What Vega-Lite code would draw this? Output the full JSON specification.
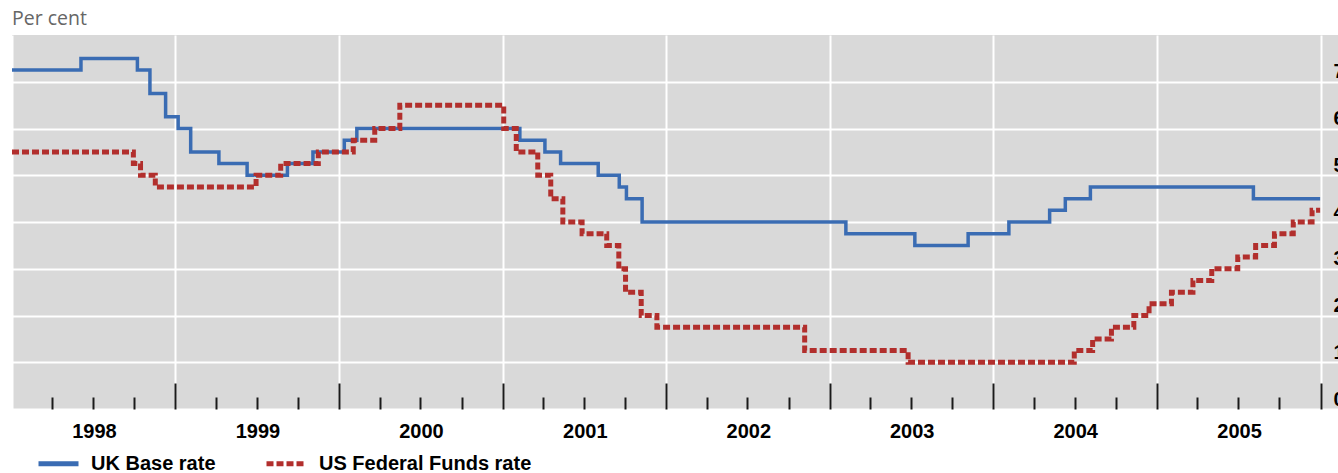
{
  "$schema": "https://vega.github.io/schema/vega-lite/v6.json",
  "autosize": {"type": "none"},
  "padding": {"left": 12, "top": 35, "right": 0, "bottom": 64},
  "width": 1335,
  "height": 374,
  "background": "white",
  "config": {
    "view": {"fill": "#d9d9d9", "stroke": null},
    "font": "Liberation Sans"
  },
  "title": {
    "text": "Per cent",
    "anchor": "start",
    "frame": "group",
    "font": "Open Sans",
    "fontSize": 19.5,
    "fontWeight": "normal",
    "color": "#666666",
    "baseline": "alphabetic",
    "offset": -9
  },
  "datasets": {
    "rates": [
      {"series": "UK Base rate", "date": "1998-01-01", "rate": 7.25},
      {"series": "UK Base rate", "date": "1998-06-04", "rate": 7.5},
      {"series": "UK Base rate", "date": "1998-10-08", "rate": 7.25},
      {"series": "UK Base rate", "date": "1998-11-05", "rate": 6.75},
      {"series": "UK Base rate", "date": "1998-12-10", "rate": 6.25},
      {"series": "UK Base rate", "date": "1999-01-07", "rate": 6.0},
      {"series": "UK Base rate", "date": "1999-02-04", "rate": 5.5},
      {"series": "UK Base rate", "date": "1999-04-08", "rate": 5.25},
      {"series": "UK Base rate", "date": "1999-06-10", "rate": 5.0},
      {"series": "UK Base rate", "date": "1999-09-08", "rate": 5.25},
      {"series": "UK Base rate", "date": "1999-11-04", "rate": 5.5},
      {"series": "UK Base rate", "date": "2000-01-13", "rate": 5.75},
      {"series": "UK Base rate", "date": "2000-02-10", "rate": 6.0},
      {"series": "UK Base rate", "date": "2001-02-08", "rate": 5.75},
      {"series": "UK Base rate", "date": "2001-04-05", "rate": 5.5},
      {"series": "UK Base rate", "date": "2001-05-10", "rate": 5.25},
      {"series": "UK Base rate", "date": "2001-08-02", "rate": 5.0},
      {"series": "UK Base rate", "date": "2001-09-18", "rate": 4.75},
      {"series": "UK Base rate", "date": "2001-10-04", "rate": 4.5},
      {"series": "UK Base rate", "date": "2001-11-08", "rate": 4.0},
      {"series": "UK Base rate", "date": "2003-02-06", "rate": 3.75},
      {"series": "UK Base rate", "date": "2003-07-10", "rate": 3.5},
      {"series": "UK Base rate", "date": "2003-11-06", "rate": 3.75},
      {"series": "UK Base rate", "date": "2004-02-05", "rate": 4.0},
      {"series": "UK Base rate", "date": "2004-05-06", "rate": 4.25},
      {"series": "UK Base rate", "date": "2004-06-10", "rate": 4.5},
      {"series": "UK Base rate", "date": "2004-08-05", "rate": 4.75},
      {"series": "UK Base rate", "date": "2005-08-04", "rate": 4.5},
      {"series": "UK Base rate", "date": "2005-12-31", "rate": 4.5},
      {"series": "US Federal Funds rate", "date": "1998-01-01", "rate": 5.5},
      {"series": "US Federal Funds rate", "date": "1998-09-29", "rate": 5.25},
      {"series": "US Federal Funds rate", "date": "1998-10-15", "rate": 5.0},
      {"series": "US Federal Funds rate", "date": "1998-11-17", "rate": 4.75},
      {"series": "US Federal Funds rate", "date": "1999-06-30", "rate": 5.0},
      {"series": "US Federal Funds rate", "date": "1999-08-24", "rate": 5.25},
      {"series": "US Federal Funds rate", "date": "1999-11-16", "rate": 5.5},
      {"series": "US Federal Funds rate", "date": "2000-02-02", "rate": 5.75},
      {"series": "US Federal Funds rate", "date": "2000-03-21", "rate": 6.0},
      {"series": "US Federal Funds rate", "date": "2000-05-16", "rate": 6.5},
      {"series": "US Federal Funds rate", "date": "2001-01-03", "rate": 6.0},
      {"series": "US Federal Funds rate", "date": "2001-01-31", "rate": 5.5},
      {"series": "US Federal Funds rate", "date": "2001-03-20", "rate": 5.0},
      {"series": "US Federal Funds rate", "date": "2001-04-18", "rate": 4.5},
      {"series": "US Federal Funds rate", "date": "2001-05-15", "rate": 4.0},
      {"series": "US Federal Funds rate", "date": "2001-06-27", "rate": 3.75},
      {"series": "US Federal Funds rate", "date": "2001-08-21", "rate": 3.5},
      {"series": "US Federal Funds rate", "date": "2001-09-17", "rate": 3.0},
      {"series": "US Federal Funds rate", "date": "2001-10-02", "rate": 2.5},
      {"series": "US Federal Funds rate", "date": "2001-11-06", "rate": 2.0},
      {"series": "US Federal Funds rate", "date": "2001-12-11", "rate": 1.75},
      {"series": "US Federal Funds rate", "date": "2002-11-06", "rate": 1.25},
      {"series": "US Federal Funds rate", "date": "2003-06-25", "rate": 1.0},
      {"series": "US Federal Funds rate", "date": "2004-06-30", "rate": 1.25},
      {"series": "US Federal Funds rate", "date": "2004-08-10", "rate": 1.5},
      {"series": "US Federal Funds rate", "date": "2004-09-21", "rate": 1.75},
      {"series": "US Federal Funds rate", "date": "2004-11-10", "rate": 2.0},
      {"series": "US Federal Funds rate", "date": "2004-12-14", "rate": 2.25},
      {"series": "US Federal Funds rate", "date": "2005-02-02", "rate": 2.5},
      {"series": "US Federal Funds rate", "date": "2005-03-22", "rate": 2.75},
      {"series": "US Federal Funds rate", "date": "2005-05-03", "rate": 3.0},
      {"series": "US Federal Funds rate", "date": "2005-06-30", "rate": 3.25},
      {"series": "US Federal Funds rate", "date": "2005-08-09", "rate": 3.5},
      {"series": "US Federal Funds rate", "date": "2005-09-20", "rate": 3.75},
      {"series": "US Federal Funds rate", "date": "2005-11-01", "rate": 4.0},
      {"series": "US Federal Funds rate", "date": "2005-12-13", "rate": 4.25},
      {"series": "US Federal Funds rate", "date": "2005-12-31", "rate": 4.25}
    ]
  },
  "data": {"name": "rates"},
  "encoding": {
    "y": {
      "field": "rate",
      "type": "quantitative",
      "scale": {"domain": [0, 8], "nice": false, "zero": true},
      "axis": {
        "orient": "right",
        "values": [0, 1, 2, 3, 4, 5, 6, 7],
        "offset": -14,
        "ticks": false,
        "domain": false,
        "grid": true,
        "gridColor": "white",
        "gridWidth": 2,
        "labelPadding": 0,
        "labelAlign": "left",
        "labelBaseline": "bottom",
        "labelFont": "Liberation Sans",
        "labelFontSize": 20,
        "labelFontWeight": "bold",
        "labelColor": "black",
        "title": null
      }
    },
    "color": {
      "field": "series",
      "type": "nominal",
      "scale": {"domain": ["UK Base rate", "US Federal Funds rate"], "range": ["#3a6cb3", "#b22f2d"]},
      "legend": {
        "title": null,
        "orient": "none",
        "legendX": 24,
        "legendY": 406,
        "direction": "horizontal",
        "padding": 0,
        "symbolType": "stroke",
        "symbolSize": 1600,
        "symbolStrokeWidth": 5,
        "labelOffset": 10,
        "columnPadding": 40,
        "labelFont": "Liberation Sans",
        "labelFontSize": 20,
        "labelFontWeight": "bold",
        "labelColor": "black",
        "labelLimit": 400
      }
    },
    "strokeDash": {
      "field": "series",
      "type": "nominal",
      "scale": {"domain": ["UK Base rate", "US Federal Funds rate"], "range": [[1, 0], [7, 3]]},
      "legend": {
        "title": null,
        "orient": "none",
        "legendX": 24,
        "legendY": 406,
        "direction": "horizontal",
        "padding": 0,
        "symbolType": "stroke",
        "symbolSize": 1600,
        "symbolStrokeWidth": 5,
        "labelOffset": 10,
        "columnPadding": 40,
        "labelFont": "Liberation Sans",
        "labelFontSize": 20,
        "labelFontWeight": "bold",
        "labelColor": "black",
        "labelLimit": 400
      }
    }
  },
  "layer": [
    {
      "transform": [{"filter": "datum.series === 'UK Base rate'"}],
      "mark": {"type": "line", "interpolate": "step-after", "strokeWidth": 3.5},
      "encoding": {
        "x": {
          "field": "date",
          "type": "temporal",
          "scale": {
            "type": "utc",
            "domain": [
              {"year": 1998, "month": 1, "date": 1, "utc": true},
              {"year": 2006, "month": 3, "date": 1, "utc": true}
            ]
          },
          "axis": {
            "orient": "bottom",
            "values": [
              {"year": 1998, "month": 1, "date": 1, "utc": true},
              {"year": 1999, "month": 1, "date": 1, "utc": true},
              {"year": 2000, "month": 1, "date": 1, "utc": true},
              {"year": 2001, "month": 1, "date": 1, "utc": true},
              {"year": 2002, "month": 1, "date": 1, "utc": true},
              {"year": 2003, "month": 1, "date": 1, "utc": true},
              {"year": 2004, "month": 1, "date": 1, "utc": true},
              {"year": 2005, "month": 1, "date": 1, "utc": true},
              {"year": 2006, "month": 1, "date": 1, "utc": true}
            ],
            "format": "%Y",
            "labelExpr": "utcyear(datum.value) < 2006 ? datum.label : ''",
            "grid": true,
            "gridColor": "white",
            "gridWidth": 2,
            "domain": false,
            "ticks": true,
            "tickSize": -26,
            "tickWidth": 2,
            "tickColor": {"condition": {"test": "utcyear(datum.value) == 1998", "value": "transparent"}, "value": "#1a1a1a"},
            "labelOffset": 82,
            "labelPadding": 38,
            "labelFlush": false,
            "labelOverlap": false,
            "labelBound": false,
            "labelFont": "Liberation Sans",
            "labelFontSize": 20,
            "labelFontWeight": "bold",
            "labelColor": "black",
            "title": null
          }
        }
      }
    },
    {
      "transform": [{"filter": "datum.series === 'US Federal Funds rate'"}],
      "mark": {"type": "line", "interpolate": "step-after", "strokeWidth": 5},
      "encoding": {
        "x": {
          "field": "date",
          "type": "temporal",
          "scale": {
            "type": "utc",
            "domain": [
              {"year": 1998, "month": 1, "date": 1, "utc": true},
              {"year": 2006, "month": 3, "date": 1, "utc": true}
            ]
          },
          "axis": {
            "orient": "bottom",
            "values": [
              {"year": 1998, "month": 4, "date": 1, "utc": true},
              {"year": 1998, "month": 7, "date": 1, "utc": true},
              {"year": 1998, "month": 10, "date": 1, "utc": true},
              {"year": 1999, "month": 4, "date": 1, "utc": true},
              {"year": 1999, "month": 7, "date": 1, "utc": true},
              {"year": 1999, "month": 10, "date": 1, "utc": true},
              {"year": 2000, "month": 4, "date": 1, "utc": true},
              {"year": 2000, "month": 7, "date": 1, "utc": true},
              {"year": 2000, "month": 10, "date": 1, "utc": true},
              {"year": 2001, "month": 4, "date": 1, "utc": true},
              {"year": 2001, "month": 7, "date": 1, "utc": true},
              {"year": 2001, "month": 10, "date": 1, "utc": true},
              {"year": 2002, "month": 4, "date": 1, "utc": true},
              {"year": 2002, "month": 7, "date": 1, "utc": true},
              {"year": 2002, "month": 10, "date": 1, "utc": true},
              {"year": 2003, "month": 4, "date": 1, "utc": true},
              {"year": 2003, "month": 7, "date": 1, "utc": true},
              {"year": 2003, "month": 10, "date": 1, "utc": true},
              {"year": 2004, "month": 4, "date": 1, "utc": true},
              {"year": 2004, "month": 7, "date": 1, "utc": true},
              {"year": 2004, "month": 10, "date": 1, "utc": true},
              {"year": 2005, "month": 4, "date": 1, "utc": true},
              {"year": 2005, "month": 7, "date": 1, "utc": true},
              {"year": 2005, "month": 10, "date": 1, "utc": true}
            ],
            "grid": false,
            "domain": false,
            "labels": false,
            "ticks": true,
            "tickSize": -12,
            "tickWidth": 2,
            "tickColor": "#1a1a1a",
            "title": null
          }
        }
      }
    }
  ],
  "resolve": {"scale": {"x": "independent"}, "axis": {"x": "independent"}}
}
